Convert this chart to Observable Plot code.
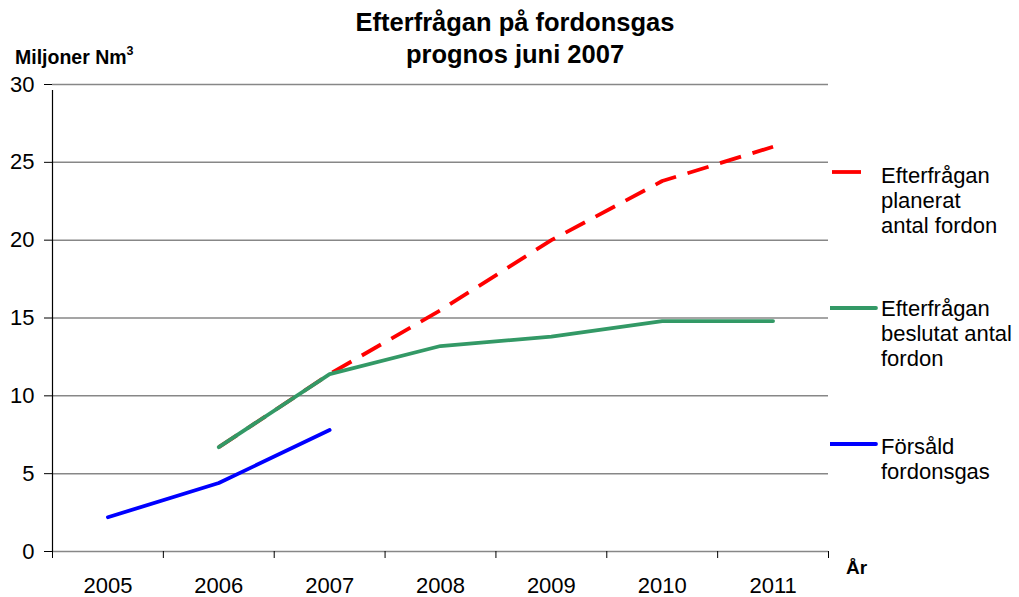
<!DOCTYPE html>
<html>
<head>
<meta charset="utf-8">
<script src="https://cdn.jsdelivr.net/npm/d3@7"></script>
<script src="https://cdn.jsdelivr.net/npm/@observablehq/plot@0.6"></script>
<style>
  html, body { margin: 0; padding: 0; background: #fff; }
  #wrap { position: relative; width: 1019px; height: 597px; font-family: "Liberation Sans", Arial, sans-serif; }
  #wrap > svg { position: absolute; left: 0; top: 0; }
  .title { position: absolute; left: 0; width: 1030px; text-align: center; font-weight: bold; font-size: 25.5px; line-height: 32px; top: 6px; color: #000; }
  .ylab { position: absolute; left: 15px; top: 46px; font-weight: bold; font-size: 19.5px; line-height: 22px; color: #000; }
  .ylab sup { font-size: 12.5px; vertical-align: 9px; line-height: 0; }
  .xlab { position: absolute; left: 846px; top: 557px; font-weight: bold; font-size: 19px; line-height: 22px; color: #000; }
  .leg { position: absolute; left: 830px; font-size: 22px; line-height: 25px; color: #000; }
  .leg svg { position: absolute; left: 0; top: 0; }
  .leg span { position: absolute; left: 51px; top: 0; white-space: pre; }
</style>
</head>
<body>
<div id="wrap">
  <div class="title">Efterfrågan på fordonsgas<br>prognos juni 2007</div>
  <div class="ylab">Miljoner Nm<sup>3</sup></div>
  <div class="xlab">År</div>
</div>
<script>
const years = [2005, 2006, 2007, 2008, 2009, 2010, 2011];
const planerat = [null, 6.7, 11.4, 15.5, 20.0, 23.8, 26.0];
const beslutat = [null, 6.7, 11.4, 13.2, 13.8, 14.8, 14.8];
const forsald = [2.2, 4.4, 7.8, null, null, null, null];
const yTicks = [0, 5, 10, 15, 20, 25, 30];
const seriesNames = ["Efterfrågan\nplanerat\nantal fordon", "Efterfrågan\nbeslutat antal\nfordon", "Försåld\nfordonsgas"];
const seriesColors = ["#ff0000", "#339966", "#0000ff"];

function rows(vals, name) {
  return years.map((y, i) => ({year: y, value: vals[i], series: name})).filter(d => d.value != null);
}
const dPlan = rows(planerat, seriesNames[0]);
const dBes = rows(beslutat, seriesNames[1]);
const dFor = rows(forsald, seriesNames[2]);
const boundaries = years.map(y => y - 0.5).concat([years[years.length - 1] + 0.5]);

const chart = Plot.plot({
  width: 1019,
  height: 597,
  marginLeft: 52,
  marginRight: 191,
  marginTop: 84,
  marginBottom: 46,
  style: {fontFamily: "Liberation Sans, Arial, sans-serif", fontSize: "22px", color: "#000", background: "transparent"},
  x: {type: "linear", domain: [boundaries[0], boundaries[boundaries.length - 1]]},
  y: {domain: [0, 30]},
  marks: [
    Plot.ruleY(yTicks, {stroke: "#878787", strokeWidth: 1.5}),
    Plot.ruleX([boundaries[0]], {y1: 0, y2: 30, stroke: "#000", strokeWidth: 1.2, insetBottom: -6}),
    Plot.axisY({ticks: yTicks, tickSize: 8, tickPadding: 10, tickFormat: d => String(d), label: null, stroke: "#000", fontSize: 22}),
    Plot.axisX({ticks: boundaries, tickSize: 7, tickFormat: () => "", label: null, stroke: "#000"}),
    Plot.axisX({ticks: years, tickSize: 0, tickPadding: 26, tickFormat: d => String(d), label: null, fontSize: 22}),
    Plot.line(dPlan, {x: "year", y: "value", stroke: seriesColors[0], strokeWidth: 3.8, strokeDasharray: "22,12", strokeLinecap: "butt"}),
    Plot.line(dBes, {x: "year", y: "value", stroke: seriesColors[1], strokeWidth: 3.8, strokeLinecap: "round"}),
    Plot.line(dFor, {x: "year", y: "value", stroke: seriesColors[2], strokeWidth: 3.8, strokeLinecap: "round"})
  ]
});
const wrap = document.getElementById("wrap");
wrap.insertBefore(chart, wrap.firstChild);

// legend
const legTops = [163, 296, 434];
const swatchY = [9, 12, 10];
seriesNames.forEach((name, i) => {
  const div = document.createElement("div");
  div.className = "leg";
  div.style.top = legTops[i] + "px";
  const dashed = i === 0;
  div.innerHTML = `<svg width="50" height="26"><line x1="${dashed ? 2 : 0}" x2="${dashed ? 31 : 46}" y1="${swatchY[i]}" y2="${swatchY[i]}" stroke="${seriesColors[i]}" stroke-width="3.8" stroke-linecap="${dashed ? "butt" : "round"}"/></svg><span></span>`;
  div.querySelector("span").textContent = name;
  wrap.appendChild(div);
});
</script>
</body>
</html>
